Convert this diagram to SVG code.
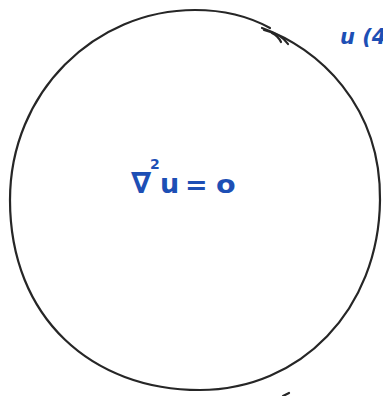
<svg xmlns="http://www.w3.org/2000/svg" width="383" height="396" viewBox="0 0 383 396">
<style>
.outline{fill:none;stroke:#262626;stroke-width:2.2;stroke-linecap:round;stroke-linejoin:round}
.hand{fill:#1d4fb5;font-family:"DejaVu Sans","Liberation Sans",sans-serif;font-weight:bold}
</style>
<rect width="383" height="396" fill="#ffffff"/>
<g id="region">
<path class="outline" d="M 262,28 C 318,48 381,105 380,200 C 379,310 300,390 200,390 C 92,390 10,318 10,200 C 10,92 95,10 195,10 C 225,10 250,17 270,28"/>
<path class="outline" d="M 264,30 C 276,33 284,38 288,44"/>
<path class="outline" d="M 272,33 C 276,35 279,38 281,42"/>
<text class="hand" x="131" y="193" font-size="29">∇</text>
<text class="hand" x="150" y="169" font-size="14">2</text>
<text class="hand" x="160" y="193" font-size="27">u</text>
<text class="hand" x="185" y="194" font-size="27">=</text>
<text class="hand" x="216" y="193" font-size="26" font-weight="normal" transform="translate(216,193) scale(1.1,0.95) translate(-216,-193)">o</text>
</g>
<g id="boundary-label">
<text class="hand" x="340" y="44" font-size="21" font-weight="normal" font-style="italic">u (4</text>
</g>
<g id="connectors">
<path class="outline" d="M 283,396 L 289,393"/>
</g>
</svg>
